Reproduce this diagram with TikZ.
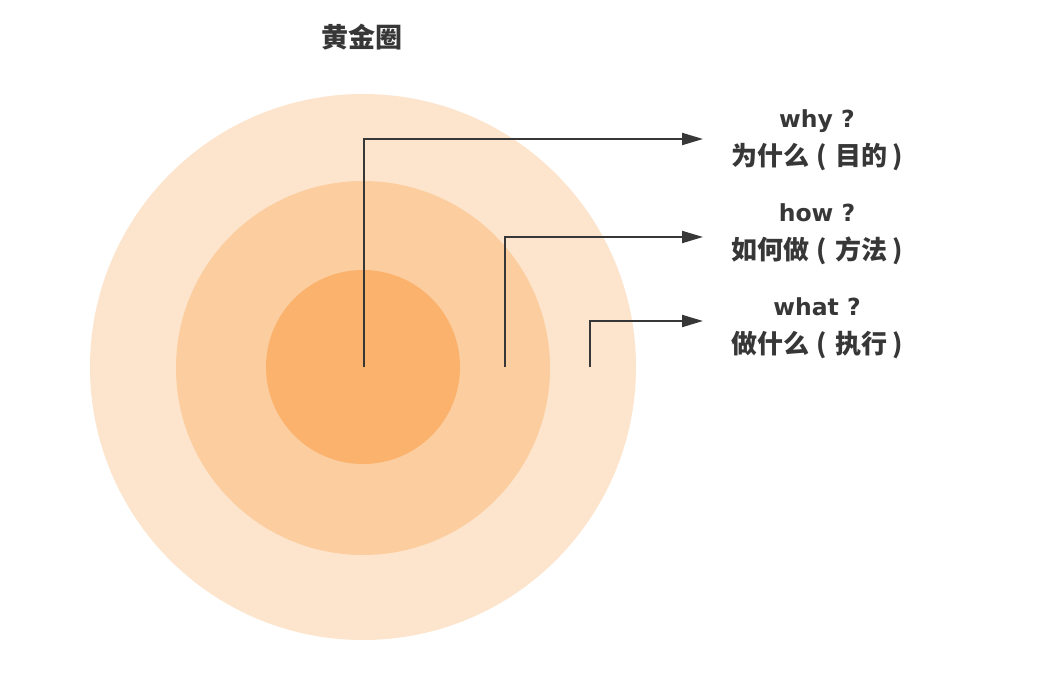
\documentclass[tikz,border=0pt]{standalone}
\usepackage{fontspec}
\newfontfamily\cjk{Noto Sans CJK SC}
\newfontfamily\enf{DejaVu Sans}
\usetikzlibrary{arrows.meta}
\definecolor{ringA}{RGB}{253,229,205}
\definecolor{ringB}{RGB}{252,205,158}
\definecolor{ringC}{RGB}{251,178,108}
\definecolor{ink}{RGB}{55,55,55}
\newcommand{\lpar}{\hspace{7pt}(\hspace{9pt}}
\newcommand{\rpar}{\hspace{5pt})}
\newcommand{\en}{\enf\bfseries\fontsize{23.5}{33}\selectfont}
\tikzset{
  ring/.style={circle, draw=none, inner sep=0pt, minimum size=#1},
  lead/.style={draw=ink, line width=2pt, -{Triangle[length=21pt,width=12pt]}},
  lab/.style={text=ink, font=\cjk\bfseries\fontsize{26}{33}\selectfont, align=center, inner sep=0pt},
  ttl/.style={text=ink, font=\cjk\bfseries\fontsize{27}{33}\selectfont, inner sep=0pt}
}
\begin{document}
\begin{tikzpicture}[x=1pt,y=-1pt]
\useasboundingbox (0,0) rectangle (1037,688);
\fill[white] (0,0) rectangle (1037,688);
\node[ring=546pt, fill=ringA] (outer) at (363,367) {};
\node[ring=374pt, fill=ringB] (middle) at (363,368) {};
\node[ring=194pt, fill=ringC] (inner) at (363,367) {};
\node[ttl] (title) at (362,37) {黄金圈};
\coordinate (s1) at (364,367);
\coordinate (s2) at (505,367);
\coordinate (s3) at (590,367);
\coordinate (t1) at (703,139);
\coordinate (t2) at (703,237);
\coordinate (t3) at (703,321);
\draw[lead] (s1) |- (t1);
\draw[lead] (s2) |- (t2);
\draw[lead] (s3) |- (t3);
\node[lab] (why) at (817,140) {{\en why ?}\\[5pt]为什么\lpar 目的\rpar};
\node[lab] (how) at (817,234) {{\en how ?}\\[5pt]如何做\lpar 方法\rpar};
\node[lab] (what) at (817,328) {{\en what ?}\\[5pt]做什么\lpar 执行\rpar};
\end{tikzpicture}
\end{document}
